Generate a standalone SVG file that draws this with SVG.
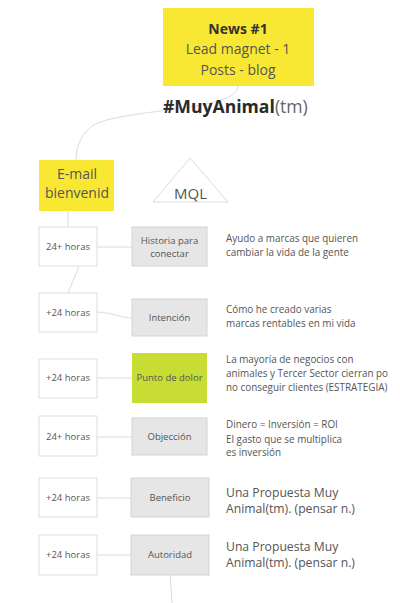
<svg xmlns="http://www.w3.org/2000/svg" width="400" height="603" viewBox="0 0 400 603">
<style>
text{font-family:"Open Sans","Noto Sans","Liberation Sans",sans-serif;fill:#555}
.c{text-anchor:middle}
.s{font-size:9.5px}
.r{font-size:9.9px}
.b{font-size:12.2px}
.hb{fill:#fff;stroke:#ddd;stroke-width:1}
.gb{fill:#e6e6e6;stroke:#d4d4d4;stroke-width:1}
.ln{fill:none;stroke:#dcdcdc;stroke-width:1}
</style>
<rect width="400" height="603" fill="#fff"/>
<g id="connectors">
<path class="ln" d="M238,86 C238,112 120,108 92,126 C79,136 76,150 76,160"/>
<path class="ln" d="M68,211 L68,227"/>
<path class="ln" d="M79,266 L68,293"/>
<path class="ln" d="M97,247 L132,247"/>
<path class="ln" d="M97,312 C115,313 120,318 132,318"/>
<path class="ln" d="M97,378 L132,378"/>
<path class="ln" d="M97,437 L132,437"/>
<path class="ln" d="M97,498 L131,498"/>
<path class="ln" d="M97,555 L131,555"/>
<path class="ln" d="M170,575 L172,603"/>
</g>
<g id="news">
<rect x="163" y="8" width="151" height="78" fill="#f9e833"/>
<text class="c" x="238" y="34" font-size="14" font-weight="bold" style="fill:#333">News #1</text>
<text class="c" x="238" y="54" font-size="14">Lead magnet - 1</text>
<text class="c" x="238" y="75" font-size="14">Posts - blog</text>
</g>
<g id="title">
<text x="163" y="113" font-size="17.6"><tspan font-weight="bold" style="fill:#2a2a2a">#MuyAnimal</tspan><tspan style="fill:#666">(tm)</tspan></text>
</g>
<g id="email">
<rect x="39" y="160" width="75" height="51" fill="#f9e833"/>
<text class="c" x="77" y="179" font-size="14">E-mail</text>
<text class="c" x="77" y="198" font-size="14">bienvenid</text>
</g>
<g id="mql">
<path d="M190,158 L228,202 L153,202 Z" fill="#fff" stroke="#ddd"/>
<text class="c" x="190.5" y="199" font-size="15">MQL</text>
</g>
<g id="h1"><rect class="hb" x="39" y="227" width="58" height="39"/><text class="c s" x="68" y="250">24+ horas</text></g>
<g id="n1"><rect class="gb" x="132" y="227" width="75" height="39"/><text class="c s" x="169.5" y="244">Historia para</text><text class="c s" x="169.5" y="257">conectar</text></g>
<g id="t1"><text class="r" x="226" y="242">Ayudo a marcas que quieren</text><text class="r" x="226" y="256">cambiar la vida de la gente</text></g>
<g id="h2"><rect class="hb" x="39" y="293" width="58" height="39"/><text class="c s" x="68" y="316">+24 horas</text></g>
<g id="n2"><rect class="gb" x="132" y="299" width="75" height="37"/><text class="c s" x="169.5" y="321">Intención</text></g>
<g id="t2"><text class="r" x="226" y="313">Cómo he creado varias</text><text class="r" x="226" y="327">marcas rentables en mi vida</text></g>
<g id="h3"><rect class="hb" x="39" y="359" width="58" height="39"/><text class="c s" x="68" y="381">+24 horas</text></g>
<g id="n3"><rect x="132" y="353" width="75" height="50" fill="#c8dd33"/><text class="c s" x="169.5" y="381">Punto de dolor</text></g>
<g id="t3"><text class="r" x="226" y="363">La mayoría de negocios con</text><text class="r" x="226" y="377">animales y Tercer Sector cierran po</text><text class="r" x="226" y="391">no conseguir clientes (ESTRATEGIA)</text></g>
<g id="h4"><rect class="hb" x="39" y="416" width="58" height="40"/><text class="c s" x="68" y="440">24+ horas</text></g>
<g id="n4"><rect class="gb" x="132" y="418" width="75" height="37"/><text class="c s" x="169.5" y="440">Objección</text></g>
<g id="t4"><text class="r" x="226" y="428">Dinero = Inversión = ROI</text><text class="r" x="226" y="443">El gasto que se multiplica</text><text class="r" x="226" y="456">es inversión</text></g>
<g id="h5"><rect class="hb" x="39" y="478" width="58" height="39"/><text class="c s" x="68" y="501">+24 horas</text></g>
<g id="n5"><rect class="gb" x="131" y="478" width="78" height="39"/><text class="c s" x="170" y="501">Beneficio</text></g>
<g id="t5"><text class="b" x="226" y="497">Una Propuesta Muy</text><text class="b" x="226" y="513">Animal(tm). (pensar n.)</text></g>
<g id="h6"><rect class="hb" x="39" y="535" width="58" height="40"/><text class="c s" x="68" y="558">+24 horas</text></g>
<g id="n6"><rect class="gb" x="131" y="535" width="78" height="40"/><text class="c s" x="170" y="558">Autoridad</text></g>
<g id="t6"><text class="b" x="226" y="551">Una Propuesta Muy</text><text class="b" x="226" y="567">Animal(tm). (pensar n.)</text></g>
</svg>
